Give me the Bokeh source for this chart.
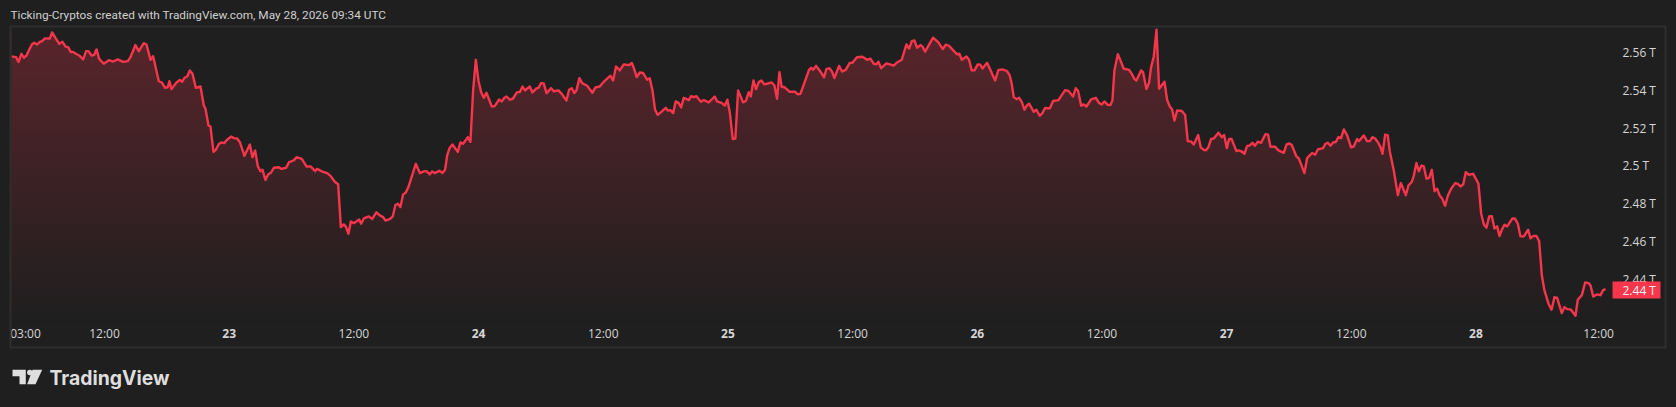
from bokeh.plotting import figure
from bokeh.models import Range1d, FixedTicker, LinearAxis
from bokeh.core.properties import value
from bokeh.embed import file_html
from bokeh.resources import INLINE
import numpy as np

# (hours since 22 May 03:00, total market cap in billions)
day22 = [(0.02,2557.9),(0.50,2557.5),(0.72,2554.9),(1.01,2559.3),(1.24,2557.2),(1.49,2558.4),(1.75,2561.4),(2.01,2564.2),(2.23,2565.1),(2.52,2564.2),(2.78,2565.6),(3.00,2566.0),(3.26,2567.4),(3.74,2567.4),(3.96,2570.6),(4.28,2567.7),(4.64,2564.6),(4.96,2565.6),(5.25,2563.1),(5.50,2562.8),(5.76,2560.2),(5.98,2560.3),(6.24,2559.3),(6.56,2558.4),(6.95,2556.3),(7.23,2560.7),(7.46,2560.7),(7.75,2558.4),(8.00,2558.7),(8.23,2561.6),(8.49,2556.6),(8.93,2554.0),(9.42,2555.9),(9.83,2555.2),(10.28,2556.3),(10.80,2555.0),(11.25,2555.4),(11.50,2557.5),(11.98,2563.9),(12.30,2560.7),(12.78,2564.9),(13.04,2564.2),(13.43,2556.1),(13.68,2558.0),(14.23,2544.8),(14.52,2544.1),(14.84,2541.3),(15.09,2541.6),(15.25,2544.8),(15.45,2540.6),(15.93,2544.1),(16.25,2545.5),(16.47,2544.5),(16.70,2546.6),(16.96,2547.3),(17.21,2550.5),(17.47,2548.7),(17.79,2541.3),(18.24,2542.0),(18.56,2531.9),(18.72,2530.2),(19.01,2521.4),(19.20,2520.8),(19.49,2507.4),(19.71,2508.5),(20.03,2511.7),(20.26,2512.4),(20.51,2512.0),(20.80,2513.8)]
day23 = [(21.19,2515.5),(21.45,2514.7),(21.77,2514.5),(22.03,2512.5),(22.47,2505.3),(22.99,2511.3),(23.24,2504.6),(23.50,2508.1),(23.76,2499.7),(24.01,2497.2),(24.21,2497.9),(24.49,2492.6),(24.75,2495.4),(25.04,2496.5),(25.30,2499.0),(25.78,2499.3),(26.03,2498.4),(26.48,2499.0),(26.77,2502.0),(27.22,2502.9),(27.48,2504.6),(27.99,2503.7),(28.44,2499.7),(28.83,2499.7),(29.27,2497.2),(29.47,2498.4),(29.95,2497.0),(30.43,2496.2),(30.75,2494.7),(31.17,2491.6),(31.49,2490.3),(31.75,2467.6),(32.03,2469.0),(32.23,2467.9),(32.48,2464.1),(32.71,2470.6),(33.00,2469.7),(33.51,2471.6),(33.70,2469.4),(33.96,2472.2),(34.44,2473.3),(34.76,2471.9),(35.17,2475.4),(35.50,2473.8),(35.82,2472.9),(36.04,2471.1),(36.46,2471.8),(36.75,2473.3),(37.00,2479.3),(37.23,2480.0),(37.48,2478.2),(37.74,2484.9),(38.00,2485.9),(38.25,2488.8),(38.96,2501.1),(39.35,2496.2),(39.73,2497.1),(39.99,2497.2),(40.31,2495.5),(40.53,2497.1),(40.76,2496.2),(41.24,2497.4),(41.53,2496.2),(41.78,2497.9),(41.98,2505.5),(42.23,2509.6),(42.49,2511.3),(43.00,2507.4),(43.26,2512.4),(43.52,2511.7),(43.97,2515.2),(44.22,2512.7)]
day24 = [(44.48,2539.9),(44.74,2556.1),(44.99,2545.2),(45.25,2539.0),(45.51,2536.0),(45.76,2538.7),(46.28,2531.4),(46.56,2531.6),(46.98,2535.1),(47.24,2534.1),(47.49,2536.0),(47.69,2536.7),(48.01,2535.0),(48.30,2535.5),(48.71,2539.0),(48.97,2539.0),(49.23,2542.0),(49.48,2539.9),(49.93,2542.0),(50.19,2538.8),(50.57,2541.0),(50.77,2541.3),(51.02,2543.8),(51.28,2543.6),(51.54,2538.5),(51.99,2541.1),(52.24,2539.5),(52.69,2539.9),(53.01,2538.1),(53.46,2534.6),(53.72,2540.3),(53.97,2541.1),(54.23,2538.5),(54.42,2539.9),(54.71,2546.4),(54.97,2543.8),(55.45,2542.4),(55.96,2538.7),(56.25,2541.5),(56.67,2542.0),(57.05,2544.5),(57.38,2546.2),(57.70,2547.7),(57.95,2545.2),(58.24,2552.6),(58.59,2550.5),(58.98,2553.7),(59.49,2553.3),(59.75,2554.4),(59.94,2551.9),(60.23,2547.0),(60.52,2549.4),(60.84,2549.1),(61.23,2545.6),(61.48,2546.3),(61.74,2539.9),(61.99,2529.7),(62.25,2527.0),(62.67,2529.0),(63.02,2530.7),(63.21,2529.3),(63.47,2529.5),(63.73,2527.9),(63.98,2534.1),(64.27,2533.2),(64.50,2530.9),(64.75,2536.0),(65.24,2534.8),(65.46,2536.9),(65.72,2536.4),(65.97,2536.9),(66.29,2534.6),(66.42,2533.9),(66.68,2534.8),(67.16,2533.6),(67.73,2536.7),(67.96,2534.1),(68.44,2533.2),(68.70,2531.8)]
day25 = [(68.95,2535.0),(69.18,2528.4),(69.47,2514.2),(69.72,2514.5),(69.98,2539.9),(70.46,2533.6),(70.72,2534.3),(71.01,2539.0),(71.20,2536.7),(71.46,2545.2),(71.71,2540.6),(71.97,2544.3),(72.23,2545.2),(72.51,2543.1),(73.22,2544.1),(73.48,2542.5),(73.73,2535.5),(73.96,2549.6),(74.18,2541.7),(74.44,2541.7),(74.95,2539.2),(75.47,2539.2),(75.72,2537.8),(75.98,2538.1),(76.81,2550.8),(77.01,2551.9),(77.20,2550.8),(77.49,2552.9),(77.90,2549.9),(78.26,2546.9),(78.48,2551.2),(78.77,2551.7),(79.00,2550.1),(79.25,2546.4),(79.70,2552.9),(79.99,2549.9),(80.34,2550.8),(80.73,2554.5),(80.98,2554.5),(81.43,2557.5),(81.95,2557.7),(82.40,2556.1),(82.72,2556.7),(83.04,2554.0),(83.29,2553.7),(83.49,2555.1),(83.74,2551.7),(84.26,2554.2),(84.96,2553.0),(85.28,2554.7),(85.73,2556.1),(86.18,2564.2),(86.44,2562.1),(86.70,2566.0),(86.95,2566.3),(87.21,2562.5),(87.53,2563.9),(87.72,2563.2),(87.98,2560.4),(88.75,2567.8),(89.26,2565.3),(89.68,2561.8),(89.97,2564.1),(90.29,2563.5),(90.93,2559.7),(91.12,2558.9),(91.28,2559.3),(91.51,2556.1),(91.96,2557.9),(92.21,2556.1)]
day26 = [(92.47,2550.5),(92.73,2550.5),(93.05,2553.7),(93.30,2553.5),(93.50,2551.5),(93.95,2554.5),(94.72,2545.2),(95.04,2550.8),(95.42,2551.0),(95.87,2550.1),(96.13,2547.7),(96.32,2543.4),(96.51,2536.4),(96.77,2535.3),(97.03,2536.0),(97.28,2533.9),(97.54,2529.7),(97.80,2532.1),(97.99,2532.9),(98.44,2528.6),(98.69,2529.7),(99.01,2526.5),(99.27,2527.9),(99.53,2530.6),(99.98,2530.4),(100.30,2534.3),(100.81,2534.8),(101.46,2540.1),(101.78,2539.6),(102.23,2536.7),(102.48,2541.1),(102.71,2539.6),(103.00,2531.8),(103.25,2532.5),(103.51,2531.4),(103.96,2535.2),(104.41,2536.0),(104.73,2533.2),(104.99,2532.5),(105.24,2534.1),(105.56,2532.3),(105.82,2532.2),(106.01,2534.6),(106.20,2550.5),(106.53,2559.1),(106.78,2555.8),(107.10,2551.4),(107.62,2550.8),(107.87,2548.7),(108.13,2545.9),(108.32,2545.2),(108.77,2550.5),(108.96,2549.6),(109.28,2540.6),(109.54,2544.1),(109.73,2552.2),(109.99,2557.9),(110.25,2572.0),(110.50,2540.8),(111.02,2544.5),(111.27,2535.0),(111.53,2531.4),(111.75,2530.0),(111.98,2524.0),(112.24,2529.3),(112.69,2529.0),(113.01,2526.9),(113.26,2513.1),(113.58,2512.9),(113.84,2511.3),(114.26,2516.3),(114.51,2509.8),(114.80,2508.5),(114.99,2508.2),(115.25,2509.9),(115.51,2514.3),(115.77,2514.5),(116.21,2517.5),(116.54,2515.2),(116.76,2516.3)]
day27 = [(117.02,2509.4),(117.24,2514.2),(117.47,2514.2),(117.95,2507.8),(118.14,2508.2),(118.46,2507.6),(118.72,2506.4),(118.97,2510.6),(119.23,2510.8),(119.49,2512.2),(119.71,2510.6),(120.00,2512.8),(120.32,2512.2),(120.74,2516.8),(120.99,2516.5),(121.22,2510.1),(121.67,2510.1),(121.99,2508.2),(122.50,2506.9),(122.76,2511.2),(123.02,2511.9),(123.27,2511.0),(123.72,2505.0),(123.95,2503.9),(124.17,2500.8),(124.49,2496.2),(124.75,2504.1),(125.23,2506.8),(125.52,2505.9),(125.78,2508.7),(126.29,2509.4),(126.51,2511.7),(126.74,2512.2),(126.99,2510.6),(127.25,2512.4),(127.51,2512.6),(127.76,2515.2),(128.02,2514.7),(128.28,2519.3),(128.60,2516.1),(128.98,2509.8),(129.24,2510.3),(129.56,2514.2),(129.75,2513.1),(130.20,2516.1),(130.52,2513.1),(130.78,2513.1),(131.04,2515.2),(131.29,2514.5),(131.55,2512.6),(131.81,2509.9),(132.00,2506.4),(132.26,2516.5),(132.51,2516.1),(132.70,2507.8),(133.09,2497.6),(133.48,2484.5),(133.77,2490.9),(134.25,2484.5),(134.50,2489.6),(134.83,2491.6),(135.02,2494.9),(135.27,2501.5),(135.50,2497.2),(135.76,2500.2),(135.98,2499.7),(136.24,2493.2),(136.49,2493.7),(136.75,2497.9),(137.01,2486.6),(137.26,2487.9),(137.52,2484.2),(137.74,2482.8),(138.03,2478.9),(138.29,2484.2),(138.61,2487.9),(139.00,2490.9),(139.25,2490.5),(139.51,2489.1),(139.77,2490.2),(140.02,2496.7),(140.31,2495.3),(140.73,2495.8)]
day28 = [(140.99,2493.2),(141.24,2490.5),(141.50,2474.7),(141.76,2469.0),(142.01,2467.3),(142.27,2473.3),(142.53,2473.4),(142.78,2466.9),(143.04,2468.0),(143.26,2462.9),(143.49,2466.2),(143.74,2468.8),(144.00,2468.0),(144.51,2472.2),(144.77,2472.0),(145.03,2469.4),(145.28,2462.7),(145.60,2462.7),(146.02,2466.2),(146.25,2461.6),(146.50,2462.9),(146.82,2462.9),(147.08,2460.2),(147.34,2442.0),(147.59,2434.1),(147.98,2427.1),(148.27,2423.9),(148.56,2430.6),(148.81,2430.2),(149.26,2422.1),(149.52,2425.3),(149.78,2424.2),(150.10,2424.1),(150.58,2420.7),(150.80,2429.2),(151.19,2431.6),(151.51,2438.3),(151.83,2438.0),(152.02,2436.8),(152.28,2430.9),(152.66,2432.0),(152.98,2431.6),(153.24,2434.3),(153.47,2434.8)]

price_ticks = [2440, 2460, 2480, 2500, 2520, 2540, 2560]
price_labels = ["2.44 T", "2.46 T", "2.48 T", "2.5 T", "2.52 T", "2.54 T", "2.56 T"]
hour_ticks = [1.4, 9, 33, 57, 81, 105, 129, 152.8]
hour_labels = ["03:00", "12:00", "12:00", "12:00", "12:00", "12:00", "12:00", "12:00"]
day_ticks = [21, 45, 69, 93, 117, 141]
day_labels = ["23", "24", "25", "26", "27", "28"]
title_text = "Ticking-Cryptos created with TradingView.com, May 28, 2026 09:34 UTC"
last_label = "2.44 T"

BG = "#1f1f1f"
RED = "#f7364b"
TEXT = "#d6d6d6"
FONT = "Open Sans"

pts = day22 + day23 + day24 + day25 + day26 + day27 + day28
hours = np.array([a for a, _ in pts])
caps = np.array([b for _, b in pts])

XMIN, XMAX = 0.05, 154.14
YMIN, YMAX = 2418.2, 2573.2
p = figure(width=1676, height=407, output_backend="svg", toolbar_location=None,
           x_range=Range1d(XMIN, XMAX), y_range=Range1d(YMIN, YMAX),
           y_axis_location="right",
           min_border_left=11, min_border_right=64, min_border_top=27, min_border_bottom=87,
           background_fill_alpha=0, border_fill_alpha=0, outline_line_color=None,
           styles={"position": "fixed", "left": "0px", "top": "0px", "background-color": BG})
p.grid.visible = False

# gradient fill: stacked bands, then everything above the curve and past its end is masked
n = 110
levels = np.linspace(YMAX - 1.5, YMIN, n)
cols = []
for f in np.linspace(0.27, 0.0, n):
    r = int(31 + f * (247 - 31)); g = int(31 + f * (54 - 31)); b = int(31 + f * (75 - 31))
    cols.append(f"#{r:02x}{g:02x}{b:02x}")
p.quad(left=XMIN - 2, right=hours[-1] + 0.2, bottom=YMIN - 5, top=levels, fill_color=cols, line_color=None)
p.varea(x=hours, y1=caps, y2=YMAX + 5, fill_color=BG)
p.varea(x=[hours[-1] - 0.15, XMAX + 3], y1=[YMIN - 6, YMIN - 6], y2=[YMAX + 5, YMAX + 5], fill_color=BG)
p.line(hours, caps, line_color=RED, line_width=2.4, line_join="round")

def style(ax, standoff):
    ax.axis_line_color = None
    ax.major_tick_line_color = None
    ax.minor_tick_line_color = None
    ax.major_label_text_color = TEXT
    ax.major_label_text_font = FONT
    ax.major_label_text_font_size = "12px"
    ax.major_label_standoff = standoff

ya = p.yaxis[0]
ya.ticker = FixedTicker(ticks=price_ticks)
ya.major_label_overrides = dict(zip(price_ticks, price_labels))
style(ya, 4)

xa = p.xaxis[0]
xa.ticker = FixedTicker(ticks=hour_ticks)
xa.major_label_overrides = dict(zip(hour_ticks, hour_labels))
style(xa, -2)

da = LinearAxis(ticker=FixedTicker(ticks=day_ticks), major_label_overrides=dict(zip(day_ticks, day_labels)))
style(da, -22)
da.major_label_text_font_style = "bold"
p.add_layout(da, "below")

# page furniture, on a transparent sheet laid over the chart
q = figure(width=1676, height=407, output_backend="svg", toolbar_location=None,
           x_range=Range1d(0, 1676), y_range=Range1d(407, 0), x_axis_type=None, y_axis_type=None,
           min_border=0, background_fill_alpha=0, border_fill_alpha=0, outline_line_color=None,
           styles={"position": "fixed", "left": "0px", "top": "0px"})
q.grid.visible = False

q.quad(left=[10], right=[1665], top=[26], bottom=[347], fill_alpha=0, line_color="#2e2e2e", line_width=2)
q.quad(left=[1612], right=[1660], top=[281], bottom=[298], fill_color=RED, line_color=None)
q.text(x=[1622], y=[289.5], text=[last_label], text_color="#f5f5f5", text_font=value(FONT), text_font_size="12px",
       text_baseline="middle")
q.text(x=[10], y=[14.5], text=[title_text], text_color="#cfcfcf", text_font=value("Roboto"), text_font_size="11.8px",
       text_baseline="middle")
logo = "#dedede"
q.patch([12, 25.3, 25.3, 19, 19, 12], [369.3, 369.3, 383.7, 383.7, 375.7, 375.7], fill_color=logo, line_color=None)
q.patch([32, 41.7, 35, 26.7], [369.3, 369.3, 383.7, 383.7], fill_color=logo, line_color=None)
q.scatter(x=[29.3], y=[372], size=5.4, marker="circle", fill_color=logo, line_color=None)
q.text(x=[49], y=[377], text=["TradingView"], text_color=logo, text_font=value("Inter"), text_font_size="19.4px",
       text_font_style="bold", text_baseline="middle")

open("out.html", "w").write(file_html([p, q], INLINE))
